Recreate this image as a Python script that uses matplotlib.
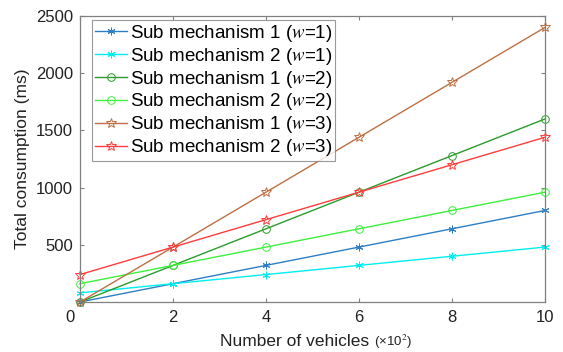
import numpy as np
import matplotlib
matplotlib.use("Agg")
import matplotlib.pyplot as plt

plt.rcParams['font.family'] = ['Liberation Sans', 'DejaVu Sans']
plt.rcParams['mathtext.fontset'] = 'stix'

vehicles = [0, 2, 4, 6, 8, 10]
sub1_w1 = [0, 160, 320, 480, 640, 800]
sub2_w1 = [80, 160, 240, 320, 400, 480]
sub1_w2 = [0, 320, 640, 960, 1280, 1600]
sub2_w2 = [160, 320, 480, 640, 800, 960]
sub1_w3 = [0, 480, 960, 1440, 1920, 2400]
sub2_w3 = [240, 480, 720, 960, 1200, 1440]

labels = ['Sub mechanism 1 ($\\mathit{w}$=1)', 'Sub mechanism 2 ($\\mathit{w}$=1)',
          'Sub mechanism 1 ($\\mathit{w}$=2)', 'Sub mechanism 2 ($\\mathit{w}$=2)',
          'Sub mechanism 1 ($\\mathit{w}$=3)', 'Sub mechanism 2 ($\\mathit{w}$=3)']
colors = ['#2e7ec4', '#00eef0', '#2b9b2b', '#3cf03c', '#bf6f42', '#ff3c3c']
markers = [(6, 2, 0), (6, 2, 0), 'o', 'o', '*', '*']
msizes = [5.5, 5.5, 5.5, 5.5, 7, 7]
series = [sub1_w1, sub2_w1, sub1_w2, sub2_w2, sub1_w3, sub2_w3]

fig = plt.figure(figsize=(5.63, 3.52), dpi=100)
ax = fig.add_axes([80 / 563, 50 / 352, 465 / 563, 286 / 352])

for ys, lab, c, m, ms in zip(series, labels, colors, markers, msizes):
    ax.plot(vehicles, ys, color=c, marker=m, markersize=ms, markerfacecolor='none',
            markeredgecolor=c, markeredgewidth=0.7, linewidth=1.0, label=lab,
            clip_on=False)

ax.set_xlim(0, 10)
ax.set_ylim(0, 2500)
ax.set_xticks([0, 2, 4, 6, 8, 10])
ax.set_xticklabels(['', '2', '4', '6', '8', '10'])
ax.set_yticks([500, 1000, 1500, 2000, 2500])
ax.tick_params(direction='in', top=True, right=True, length=3, width=0.8,
               color='#808080', labelsize=12, labelcolor='#222222')
ax.tick_params(axis='x', pad=6)
ax.tick_params(axis='y', pad=5)
for s in ax.spines.values():
    s.set_color('#808080')
    s.set_linewidth(0.9)

# the "0" label sits a little left of the corner in the original
ax.annotate('0', xy=(0, 0), xycoords='axes fraction', xytext=(-7, -6),
            textcoords='offset points', ha='center', va='top', fontsize=12,
            color='#222222')

ax.set_ylabel('Total consumption (ms)', fontsize=12.5, color='#222222', labelpad=4)
ax.annotate('Number of vehicles ', xy=(0.632, 0), xycoords='axes fraction',
            xytext=(0, -31.5), textcoords='offset points', ha='right', va='baseline',
            fontsize=12.5, color='#222222')
ax.annotate('(\u00d710$^2$)', xy=(0.632, 0), xycoords='axes fraction',
            xytext=(0, -31.5), textcoords='offset points', ha='left', va='baseline',
            fontsize=9.5, color='#222222')

leg = ax.legend(loc='upper left', bbox_to_anchor=(12 / 465, 1 - 4 / 286),
                borderaxespad=0, fontsize=13.5, frameon=True, fancybox=False,
                borderpad=0.15, labelspacing=0.1, handlelength=1.7, handletextpad=0.15)
leg.get_frame().set_edgecolor('#808080')
leg.get_frame().set_linewidth(0.8)

fig.savefig('out.png', dpi=100)
